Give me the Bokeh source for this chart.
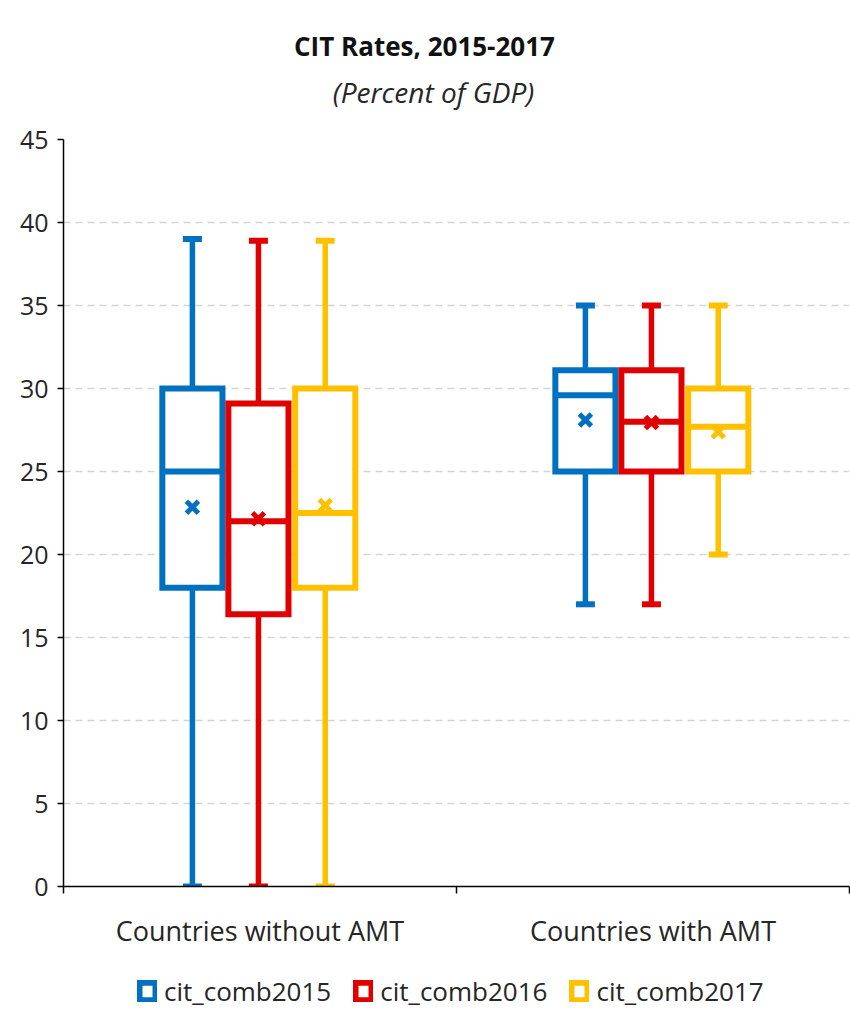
from bokeh.plotting import figure
from bokeh.layouts import column
from bokeh.models import (Range1d, FixedTicker, Label, Legend, LegendItem, ColumnDataSource)
from bokeh.embed import file_html
from bokeh.resources import INLINE

# ---------------- data ----------------
categories = ["Countries without AMT", "Countries with AMT"]
series = ["cit_comb2015", "cit_comb2016", "cit_comb2017"]
colors = ["#0070C0", "#E00000", "#FFC000"]

min_2015 = [0, 17]
q1_2015 = [18, 25]
med_2015 = [25, 29.6]
q3_2015 = [30, 31.1]
max_2015 = [39, 35]
mean_2015 = [22.85, 28.1]

min_2016 = [0, 17]
q1_2016 = [16.4, 25]
med_2016 = [22, 28]
q3_2016 = [29.1, 31.1]
max_2016 = [38.9, 35]
mean_2016 = [22.15, 27.95]

min_2017 = [0, 20]
q1_2017 = [18, 25]
med_2017 = [22.5, 27.7]
q3_2017 = [30, 30]
max_2017 = [38.9, 35]
mean_2017 = [22.95, 27.4]

y_ticks = [0, 5, 10, 15, 20, 25, 30, 35, 40, 45]

title_text = "CIT Rates, 2015-2017"
subtitle_text = "(Percent of GDP)"

stats = [
    (min_2015, q1_2015, med_2015, q3_2015, max_2015, mean_2015),
    (min_2016, q1_2016, med_2016, q3_2016, max_2016, mean_2016),
    (min_2017, q1_2017, med_2017, q3_2017, max_2017, mean_2017),
]

# ---------------- layout constants ----------------
offsets = [-0.172, -0.004, 0.166]
box_w = 0.153
FONT = "Open Sans"
TXT = "#262626"
W = 850
LEFT = 63
RIGHT = 849
TITLE_H = 121
MAIN_TOP = 18
FRAME_H = 747
MAIN_BOTTOM = 65
LEG_H = 1009 - TITLE_H - MAIN_TOP - FRAME_H - MAIN_BOTTOM

# ---------------- title block ----------------
# (frames in a column are aligned, so this block's x range spans the main frame's pixels)
tf = figure(width=W, height=TITLE_H, x_range=Range1d(LEFT, RIGHT), y_range=Range1d(TITLE_H, 0),
            output_backend="svg", toolbar_location=None, min_border=0,
            x_axis_type=None, y_axis_type=None)
tf.outline_line_color = None
tf.grid.visible = False
tf.add_layout(Label(x=424, y=45, text=title_text, text_align="center", text_baseline="middle",
                    text_font=FONT, text_font_size="26px", text_font_style="bold",
                    text_color="#111111"))
tf.add_layout(Label(x=433, y=91, text=subtitle_text, text_align="center", text_baseline="middle",
                    text_font=FONT, text_font_size="28px", text_font_style="italic",
                    text_color=TXT))

# ---------------- main plot ----------------
p = figure(width=W, height=MAIN_TOP + FRAME_H + MAIN_BOTTOM,
           x_range=Range1d(0, 2), y_range=Range1d(0, 45),
           output_backend="svg", toolbar_location=None, title=None,
           min_border_left=LEFT, min_border_right=W - RIGHT, min_border_top=MAIN_TOP,
           min_border_bottom=MAIN_BOTTOM)
p.outline_line_color = None

xa = p.xaxis[0]
xa.ticker = FixedTicker(ticks=[0.5, 1.5], minor_ticks=[0, 1, 2])
xa.major_label_overrides = {0.5: categories[0], 1.5: categories[1]}
xa.major_tick_line_color = None
xa.major_tick_in = 0
xa.major_tick_out = 0
xa.minor_tick_in = 0
xa.minor_tick_out = 7
xa.minor_tick_line_color = "black"
xa.minor_tick_line_width = 1.5
xa.axis_line_color = "black"
xa.axis_line_width = 1.5
xa.major_label_text_font = FONT
xa.major_label_text_font_size = "27px"
xa.major_label_text_color = TXT
xa.major_label_standoff = 18

ya = p.yaxis[0]
ya.ticker = FixedTicker(ticks=y_ticks)
ya.major_tick_in = 0
ya.major_tick_out = 6
ya.major_tick_line_color = "black"
ya.major_tick_line_width = 1.5
ya.minor_tick_line_color = None
ya.axis_line_color = "black"
ya.axis_line_width = 1.5
ya.major_label_text_font = FONT
ya.major_label_text_font_size = "25px"
ya.major_label_text_color = TXT
ya.major_label_standoff = 9

p.xgrid.grid_line_color = None
p.ygrid.grid_line_color = "#d4d4d4"
p.ygrid.grid_line_dash = "7 5"
p.ygrid.grid_line_width = 1.5
p.ygrid.ticker = FixedTicker(ticks=y_ticks)

# ---------------- legend block ----------------
lf = figure(width=W, height=LEG_H, x_range=Range1d(0, 1), y_range=Range1d(0, 1),
            output_backend="svg", toolbar_location=None, min_border=0,
            x_axis_type=None, y_axis_type=None)
lf.outline_line_color = None
lf.grid.visible = False

items = []
for s_idx, (name, col, st) in enumerate(zip(series, colors, stats)):
    mn, q1, md, q3, mx, me = st
    xs = [i + 0.5 + offsets[s_idx] for i in range(len(categories))]
    src = ColumnDataSource(dict(
        x=xs, x0=[x - box_w / 2 for x in xs], x1=[x + box_w / 2 for x in xs],
        mn=mn, q1=q1, md=md, q3=q3, mx=mx, me=me))
    # whiskers
    p.segment(x0="x", x1="x", y0="q3", y1="mx", source=src, line_color=col, line_width=5.5)
    p.segment(x0="x", x1="x", y0="mn", y1="q1", source=src, line_color=col, line_width=5.5)
    # caps
    p.scatter(x="x", y="mx", source=src, marker="dash", size=19, line_color=col, line_width=6)
    p.scatter(x="x", y="mn", source=src, marker="dash", size=19, line_color=col, line_width=6)
    # box
    p.vbar(x="x", width=box_w, bottom="q1", top="q3", source=src,
           fill_color="white", line_color=col, line_width=6, line_join="miter")
    # median
    p.segment(x0="x0", x1="x1", y0="md", y1="md", source=src, line_color=col, line_width=6)
    # mean
    p.scatter(x="x", y="me", source=src, marker="x", size=17, line_color=col, line_width=5)
    # legend key (a glyph with no drawable position, used only for its legend swatch)
    key = lf.vbar(x=[float("nan")], top=[1], bottom=[0], width=0.1, fill_color="white",
                  line_color=col, line_width=6, line_join="miter")
    items.append(LegendItem(label=name, renderers=[key]))

legend = Legend(items=items, orientation="horizontal", location=(137 - LEFT, 0),
                border_line_color=None, background_fill_alpha=0,
                label_text_font=FONT, label_text_font_size="26px", label_text_color=TXT,
                glyph_width=20, glyph_height=22, spacing=22, label_standoff=7,
                margin=0, padding=0)
lf.add_layout(legend, "center")

layout = column(tf, p, lf, spacing=0)
open("out.html", "w").write(file_html(layout, INLINE))
